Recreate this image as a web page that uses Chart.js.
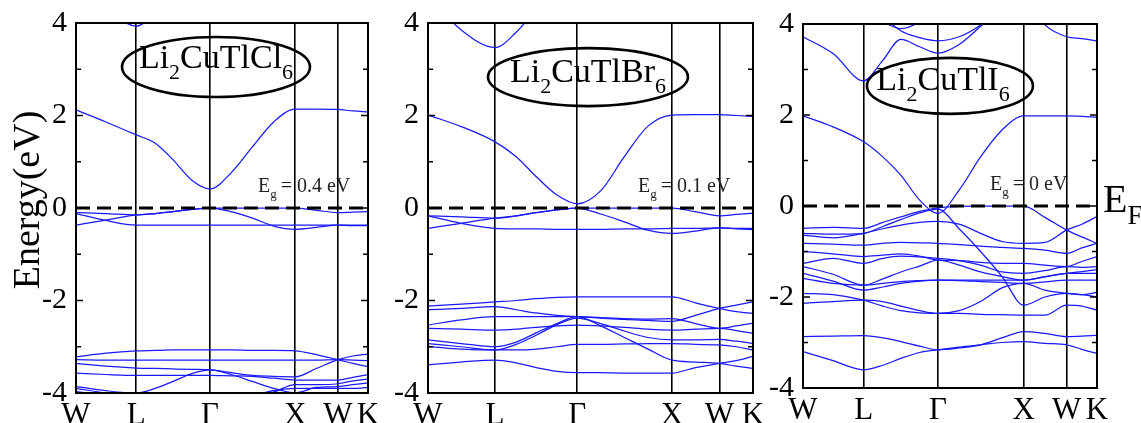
<!DOCTYPE html>
<html><head><meta charset="utf-8">
<script src="https://cdn.jsdelivr.net/npm/chart.js@4.4.1/dist/chart.umd.min.js"></script>
<style>
html,body{margin:0;padding:0;background:#fff;width:1141px;height:423px;overflow:hidden}
canvas{position:absolute;top:0}
</style></head><body>
<canvas id="c1" width="380" height="423" style="left:0px"></canvas>
<canvas id="c2" width="385" height="423" style="left:380px"></canvas>
<canvas id="c3" width="376" height="423" style="left:765px"></canvas>
<script>
// k-path (fcc): W-L-Γ-X-W-K, cumulative distances in 2π/a
const kTicks = [0, 0.707, 1.573, 2.573, 3.073, 3.427];
const kLabels = ['W', 'L', 'Γ', 'X', 'W', 'K'];
const kSamples = [0, 0.35, 0.707, 0.93, 1.14, 1.36, 1.573, 1.82, 2.07, 2.32, 2.573, 2.82, 3.073, 3.25, 3.427];
const yTickValues = [-4, -2, 0, 2, 4];
const fermiLevel = 0;
const gapCl = '0.4', gapBr = '0.1', gapI = '0';

// Li2CuTlCl6 bands (eV) at kSamples
const bandsCl = [
  [2.12,1.86,1.58,1.40,1.04,0.60,0.41,0.76,1.32,1.86,2.14,2.14,2.13,2.10,2.08],
  [4.6,4.3,3.93,4.25,4.7,5,5,5,5,5,5,5,5,5,5],
  [-0.10,-0.12,-0.15,-0.12,-0.08,-0.03,0,0,0,0,0,-0.05,-0.10,-0.09,-0.08],
  [-0.37,-0.26,-0.15,-0.12,-0.08,-0.03,0,-0.08,-0.22,-0.39,-0.46,-0.42,-0.37,-0.37,-0.37],
  [-0.12,-0.27,-0.37,-0.37,-0.37,-0.37,-0.37,-0.37,-0.37,-0.37,-0.37,-0.37,-0.37,-0.38,-0.38],
  [-3.22,-3.14,-3.09,-3.08,-3.07,-3.07,-3.07,-3.07,-3.08,-3.08,-3.09,-3.17,-3.28,-3.36,-3.43],
  [-3.28,-3.29,-3.29,-3.29,-3.29,-3.29,-3.29,-3.29,-3.29,-3.29,-3.29,-3.29,-3.28,-3.29,-3.30],
  [-3.36,-3.42,-3.46,-3.47,-3.48,-3.49,-3.50,-3.56,-3.62,-3.64,-3.65,-3.47,-3.28,-3.20,-3.16],
  [-3.57,-3.60,-3.62,-3.62,-3.62,-3.62,-3.62,-3.63,-3.64,-3.68,-3.72,-3.72,-3.72,-3.66,-3.60],
  [-3.86,-3.95,-4.00,-3.90,-3.75,-3.58,-3.50,-3.60,-3.75,-3.90,-4.00,-3.88,-3.86,-3.82,-3.78],
  [-3.90,-4.00,-4.05,-4.10,-4.10,-4.10,-4.10,-4.10,-4.05,-3.95,-3.90,-3.90,-3.90,-3.90,-3.88],
  [-3.97,-4.05,-4.10,-4.20,-4.20,-4.20,-4.20,-4.20,-4.10,-3.98,-3.82,-3.82,-3.80,-3.74,-3.70]
];

// Li2CuTlBr6 bands (eV)
const bandsBr = [
  [2.01,1.76,1.43,1.11,0.68,0.28,0.09,0.37,1.11,1.77,2.01,2.02,2.02,2.00,1.98],
  [4.6,3.85,3.47,3.80,4.3,4.8,5,5,5,5,5,5,5,5,5],
  [-0.17,-0.19,-0.22,-0.17,-0.10,-0.04,0,0,0,0,0,-0.08,-0.17,-0.14,-0.11],
  [-0.44,-0.33,-0.22,-0.17,-0.10,-0.04,0,-0.13,-0.30,-0.48,-0.55,-0.50,-0.43,-0.44,-0.44],
  [-0.17,-0.33,-0.44,-0.45,-0.45,-0.46,-0.46,-0.46,-0.45,-0.45,-0.44,-0.44,-0.43,-0.45,-0.47],
  [-2.12,-2.08,-2.03,-2.00,-1.96,-1.93,-1.92,-1.92,-1.92,-1.92,-1.92,-2.05,-2.17,-2.24,-2.28],
  [-2.20,-2.17,-2.13,-2.20,-2.27,-2.32,-2.35,-2.38,-2.41,-2.43,-2.45,-2.32,-2.17,-2.10,-2.03],
  [-2.53,-2.42,-2.35,-2.35,-2.35,-2.35,-2.35,-2.37,-2.39,-2.40,-2.39,-2.50,-2.60,-2.55,-2.49],
  [-2.60,-2.62,-2.64,-2.62,-2.58,-2.55,-2.53,-2.55,-2.58,-2.62,-2.64,-2.62,-2.60,-2.65,-2.71],
  [-2.85,-2.93,-3.00,-2.90,-2.70,-2.50,-2.35,-2.55,-2.80,-3.05,-3.29,-3.33,-3.36,-3.42,-3.47],
  [-2.93,-3.00,-3.07,-2.95,-2.75,-2.52,-2.38,-2.50,-2.66,-2.80,-2.85,-2.85,-2.84,-2.88,-2.93],
  [-2.99,-3.05,-3.07,-3.07,-3.05,-3.00,-2.95,-2.95,-2.94,-2.93,-2.93,-2.95,-2.96,-3.00,-3.07],
  [-3.39,-3.33,-3.29,-3.35,-3.45,-3.53,-3.56,-3.56,-3.57,-3.57,-3.57,-3.45,-3.36,-3.30,-3.21]
];

// Li2CuTlI6 bands (eV)
const bandsI = [
  [1.98,1.74,1.41,1.08,0.68,0.13,-0.16,0.35,1.08,1.67,1.98,1.98,1.98,1.97,1.95],
  [3.72,3.35,2.75,3.20,3.66,3.50,3.36,3.55,3.95,4.4,4.8,5,5,5,5],
  [5,5,5,5,5,5,5,5,5,5,4.6,3.98,3.72,3.68,3.63],
  [5,5,4.8,4.2,3.85,3.70,3.63,3.72,3.98,4.4,5,5,5,5,5],
  [5,4.8,4.3,4.05,3.90,4.05,4.4,5,5,5,5,5,5,5,5],
  [-0.49,-0.47,-0.49,-0.36,-0.24,-0.12,-0.04,-0.01,0,0,0,-0.25,-0.53,-0.68,-0.82],
  [-0.60,-0.62,-0.60,-0.45,-0.30,-0.15,-0.07,-0.50,-1.00,-1.55,-2.18,-2.00,-1.92,-1.95,-2.00],
  [-0.64,-0.70,-0.60,-0.50,-0.42,-0.36,-0.34,-0.40,-0.60,-0.78,-0.82,-0.80,-0.53,-0.40,-0.23],
  [-0.82,-0.84,-0.86,-0.82,-0.80,-0.81,-0.82,-0.85,-0.88,-0.91,-0.93,-0.97,-1.04,-0.92,-0.82],
  [-1.00,-1.05,-1.11,-1.08,-1.05,-1.10,-1.19,-1.20,-1.24,-1.26,-1.26,-1.30,-1.33,-1.22,-1.11],
  [-1.26,-1.15,-1.26,-1.15,-1.10,-1.12,-1.15,-1.20,-1.30,-1.45,-1.48,-1.42,-1.33,-1.35,-1.33],
  [-1.33,-1.50,-1.74,-1.70,-1.66,-1.64,-1.63,-1.63,-1.63,-1.63,-1.63,-1.56,-1.48,-1.48,-1.48],
  [-1.48,-1.65,-1.85,-1.78,-1.70,-1.65,-1.63,-1.64,-1.66,-1.68,-1.70,-1.67,-1.63,-1.63,-1.63],
  [-1.59,-1.70,-1.74,-1.60,-1.45,-1.32,-1.19,-1.30,-1.45,-1.55,-1.63,-1.55,-1.48,-1.44,-1.40],
  [-1.92,-1.95,-2.07,-2.20,-2.30,-2.35,-2.36,-2.36,-2.38,-2.39,-2.40,-2.40,-2.18,-2.20,-2.29],
  [-2.14,-2.10,-2.07,-2.10,-2.20,-2.30,-2.36,-2.30,-2.10,-1.80,-1.70,-1.85,-1.92,-1.95,-1.90],
  [-2.87,-2.86,-2.85,-2.90,-2.98,-3.08,-3.16,-3.12,-3.05,-2.90,-2.76,-2.80,-2.87,-2.86,-2.84],
  [-3.20,-3.40,-3.60,-3.50,-3.35,-3.22,-3.16,-3.10,-3.05,-3.00,-2.98,-3.02,-3.05,-3.15,-3.24]
];

const SERIF = "'Liberation Serif','Times New Roman',serif";
const BLUE = 'rgb(25,25,255)';

function drawRuns(ctx, x, base, runs) {
  let cx = x;
  for (const r of runs) {
    ctx.font = r.size + 'px ' + SERIF;
    ctx.fillText(r.t, cx, base + (r.dy || 0));
    cx += ctx.measureText(r.t).width + (r.gap || 0);
  }
  return cx - x;
}
function runsWidth(ctx, runs) {
  let w = 0;
  for (const r of runs) { ctx.font = r.size + 'px ' + SERIF; w += ctx.measureText(r.t).width + (r.gap || 0); }
  return w;
}

const decor = {
  id: 'decor',
  afterDatasetsDraw(chart, args, o) {
    const {ctx, chartArea: a, scales: {x, y}} = chart;
    ctx.save();
    ctx.strokeStyle = '#000';
    ctx.lineWidth = 1.5;
    for (let v = -3; v <= 3; v++) {
      const py = y.getPixelForValue(v);
      const len = v % 2 === 0 ? 7 : 5;
      ctx.beginPath();
      ctx.moveTo(a.left, py); ctx.lineTo(a.left + len, py);
      ctx.moveTo(a.right, py); ctx.lineTo(a.right - len, py);
      ctx.stroke();
    }
    ctx.lineWidth = 2;
    ctx.strokeRect(a.left, a.top, a.right - a.left, a.bottom - a.top);
    // compound label in ellipse
    const cx = x.getPixelForValue(o.ell.x), cy = y.getPixelForValue(o.ell.y);
    ctx.lineWidth = 2.6;
    ctx.beginPath();
    ctx.ellipse(cx, cy, o.ell.rx, o.ell.ry, 0, 0, Math.PI * 2);
    ctx.stroke();
    ctx.fillStyle = '#000';
    ctx.textBaseline = 'alphabetic';
    ctx.textAlign = 'left';
    const runs = [
      {t: 'Li', size: 34}, {t: '2', size: 22, dy: 11},
      {t: 'CuTl' + o.halogen, size: 34}, {t: '6', size: 22, dy: 11}
    ];
    const w = runsWidth(ctx, runs);
    drawRuns(ctx, cx - w / 2 + (o.ell.dx || 0), cy + o.ell.dy, runs);
    // band gap text
    ctx.fillStyle = '#222';
    drawRuns(ctx, x.getPixelForValue(o.eg.x), y.getPixelForValue(o.eg.y), [
      {t: 'E', size: 20}, {t: 'g', size: 13, dy: 6, gap: 4}, {t: '= ' + o.eg.value + ' eV', size: 20}
    ]);
    if (o.ef) {
      ctx.fillStyle = '#000';
      drawRuns(ctx, a.right + 6, y.getPixelForValue(fermiLevel) + 6, [
        {t: 'E', size: 40}, {t: 'F', size: 27, dy: 12}
      ]);
    }
    if (o.title) {
      ctx.fillStyle = '#000';
      ctx.font = '38px ' + SERIF;
      ctx.textAlign = 'center';
      ctx.textBaseline = 'middle';
      ctx.translate(29, (a.top + a.bottom) / 2 - 8);
      ctx.rotate(-Math.PI / 2);
      ctx.fillText(o.title, 0, 0);
    }
    ctx.restore();
  }
};

function makePanel(id, bands, geo, deco) {
  const datasets = [{
    data: [{x: kTicks[0], y: fermiLevel}, {x: kTicks[kTicks.length - 1], y: fermiLevel}],
    borderColor: '#000', borderWidth: 3, borderDash: [14, 7], pointRadius: 0
  }];
  bands.forEach(b => datasets.push({
    data: b.map((e, i) => ({x: kSamples[i], y: e})),
    borderColor: BLUE, borderWidth: 1.25, pointRadius: 0,
    cubicInterpolationMode: 'monotone'
  }));
  return new Chart(document.getElementById(id), {
    type: 'line',
    data: {datasets},
    options: {
      responsive: false, animation: false, devicePixelRatio: 1,
      layout: {padding: {top: geo.top, right: geo.right, left: 0, bottom: 0}},
      plugins: {legend: {display: false}, tooltip: {enabled: false}, decor: deco},
      scales: {
        x: {
          type: 'linear', min: kTicks[0], max: kTicks[kTicks.length - 1],
          afterBuildTicks: s => { s.ticks = kTicks.map(v => ({value: v})); },
          afterFit: s => { s.height = geo.xh; s.paddingLeft = 0; s.paddingRight = 0; },
          ticks: {
            autoSkip: false, maxRotation: 0, padding: 4, color: '#000',
            font: {family: SERIF, size: 31},
            callback: (v, i) => kLabels[i]
          },
          grid: {color: '#000', lineWidth: 1.6, drawTicks: false},
          border: {color: '#000', width: 2}
        },
        y: {
          min: -4, max: 4,
          afterBuildTicks: s => { s.ticks = yTickValues.map(v => ({value: v})); },
          afterFit: s => { s.width = geo.yw; s.paddingTop = 0; s.paddingBottom = 0; },
          ticks: {padding: 9, color: '#000', font: {family: SERIF, size: 30}},
          grid: {display: false, drawTicks: false},
          border: {color: '#000', width: 2}
        }
      }
    },
    plugins: [decor]
  });
}

makePanel('c1', bandsCl, {top: 23, right: 12, xh: 30, yw: 76},
  {halogen: 'Cl', title: 'Energy(eV)', ell: {x: 1.643, y: 3.05, rx: 94, ry: 30, dx: 0, dy: 1}, eg: {x: 2.136, y: 0.346, value: gapCl}});
makePanel('c2', bandsBr, {top: 23, right: 12, xh: 30, yw: 48},
  {halogen: 'Br', ell: {x: 1.687, y: 2.83, rx: 100, ry: 29, dx: 0, dy: 5}, eg: {x: 2.214, y: 0.346, value: gapBr}});
makePanel('c3', bandsI, {top: 24, right: 44, xh: 35, yw: 38},
  {halogen: 'I', ell: {x: 1.713, y: 2.64, rx: 83, ry: 28, dx: -7, dy: 4}, eg: {x: 2.18, y: 0.35, value: gapI}, ef: true});
</script>
</body></html>
